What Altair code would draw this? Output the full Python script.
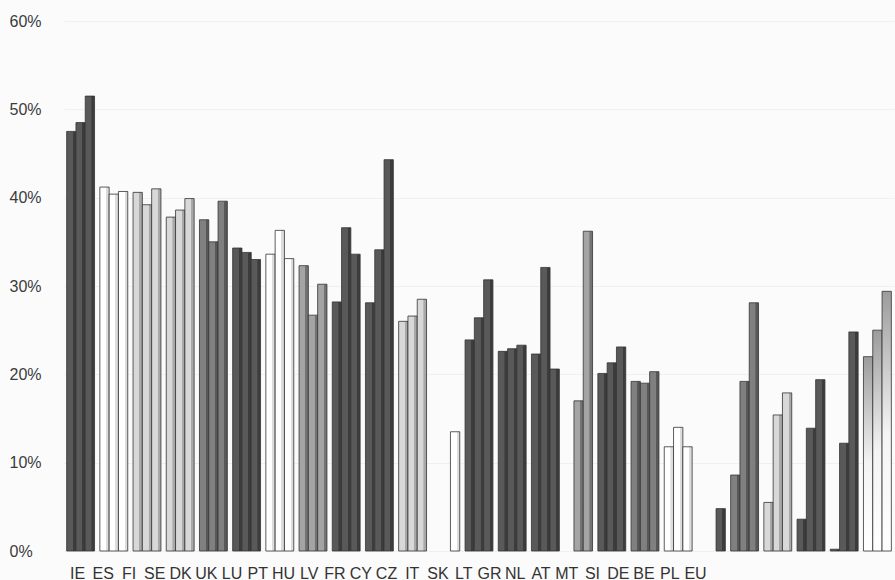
import altair as alt
import pandas as pd

# Country codes shown along the bottom axis
countries = ["IE", "ES", "FI", "SE", "DK", "UK", "LU", "PT", "HU", "LV", "FR", "CY", "CZ",
             "IT", "SK", "LT", "GR", "NL", "AT", "MT", "SI", "DE", "BE", "PL", "EU"]

# Three bars per country group (percent); None = no bar
bar_a = [47.5, 41.2, 40.6, 37.8, 37.5, 34.3, 33.6, 32.3, 28.2, 28.1, 26.0, None, 23.9,
         22.6, 22.3, None, 20.1, 19.2, 11.8, None, 8.6, 5.5, 3.6, 0.2, 22.0]
bar_b = [48.5, 40.4, 39.2, 38.6, 35.0, 33.8, 36.3, 26.7, 36.6, 34.1, 26.6, None, 26.4,
         22.9, 32.1, 17.0, 21.3, 19.0, 14.0, None, 19.2, 15.4, 13.9, 12.2, 25.0]
bar_c = [51.5, 40.7, 41.0, 39.9, 39.6, 33.0, 33.1, 30.2, 33.6, 44.3, 28.5, 13.5, 30.7,
         23.3, 20.6, 36.2, 23.1, 20.3, 11.8, 4.8, 28.1, 17.9, 19.4, 24.8, 29.4]

# Fill shade of each group
group_shade = ["dark", "white", "light", "light", "mid", "dark", "white", "gray", "dark",
               "dark", "light", "white", "dark", "dark", "dark", "gray", "dark", "mid",
               "white", "dark", "mid", "light", "dark", "dark", "fade"]

y_ticks = [0, 10, 20, 30, 40, 50, 60]

rows = []
for i, c in enumerate(countries):
    for slot, series in (("a", bar_a), ("b", bar_b), ("c", bar_c)):
        rows.append({"group": c, "slot": slot, "value": series[i], "shade": group_shade[i]})
df = pd.DataFrame(rows)
df = df[df["value"].notna()]


def face(front, side):
    # front face with a darker right-hand side face
    return alt.Gradient(
        gradient="linear", x1=0, x2=1, y1=0, y2=0,
        stops=[alt.GradientStop(color=front, offset=0),
               alt.GradientStop(color=front, offset=0.66),
               alt.GradientStop(color=side, offset=0.68),
               alt.GradientStop(color=side, offset=1)])


fills = {
    "dark": face("#595959", "#3c3c3c"),
    "white": face("#ffffff", "#dcdcdc"),
    "light": face("#d8d8d8", "#a8a8a8"),
    "gray": face("#a4a4a4", "#737373"),
    "mid": face("#808080", "#585858"),
    "fade": alt.Gradient(
        gradient="linear", x1=0, x2=0, y1=0, y2=1,
        stops=[alt.GradientStop(color="#9c9c9c", offset=0),
               alt.GradientStop(color="#f4f4f4", offset=0.55),
               alt.GradientStop(color="#ffffff", offset=1)]),
}

x_bars = alt.X("group:N", sort=countries,
               scale=alt.Scale(domain=countries, paddingInner=0.16, paddingOuter=0.08),
               axis=None)
y_enc = alt.Y("value:Q",
              scale=alt.Scale(domain=[0, 60], nice=False),
              axis=alt.Axis(values=y_ticks, labelExpr="datum.value + '%'", title=None,
                            domain=False, ticks=False, labelAlign="left", labelPadding=55,
                            labelFont="Liberation Sans", labelFontSize=16,
                            labelColor="#3c3c3c", grid=True, gridColor="#f0f0f0"))

base = alt.Chart(df)
bar_layers = []
for shade, fill in fills.items():
    bar_layers.append(
        base.transform_filter(alt.datum.shade == shade)
        .mark_bar(color=fill, stroke="#333333", strokeWidth=0.8)
        .encode(x=x_bars,
                xOffset=alt.XOffset("slot:N", sort=["a", "b", "c"],
                                    scale=alt.Scale(domain=["a", "b", "c"],
                                                    paddingInner=0, paddingOuter=0)),
                y=y_enc)
    )

# baseline with small group ticks
baseline = base.mark_bar(opacity=0).encode(
    x=alt.X("group:N", sort=countries,
            scale=alt.Scale(domain=countries, paddingInner=0.16, paddingOuter=0.08),
            axis=alt.Axis(labels=False, title=None, domainColor="#c4c4c4",
                          tickColor="#a8a8a8", tickSize=4, bandPosition=0)),
    y=y_enc,
)

bars = alt.layer(baseline, *bar_layers)

labels_df = pd.DataFrame({"group": countries})
label_axis = alt.Chart(labels_df).mark_point(opacity=0).encode(
    x=alt.X("group:N", sort=countries,
            scale=alt.Scale(type="point", domain=countries, range=[13, 631], padding=0),
            axis=alt.Axis(orient="bottom", title=None, ticks=False, domain=False,
                          labelAngle=0, labelOverlap=False, labelPadding=14,
                          labelFont="Liberation Sans", labelFontSize=16,
                          labelColor="#333333")),
)

chart = (
    alt.layer(bars, label_axis)
    .resolve_scale(x="independent")
    .resolve_axis(x="independent")
    .properties(width=830, height=530, autosize="none",
                padding={"left": 64, "top": 21, "right": 1, "bottom": 29},
                background="#fbfbfb")
    .configure_view(stroke=None)
)

chart.save("out.html", embed_options={"renderer": "svg", "actions": False})
